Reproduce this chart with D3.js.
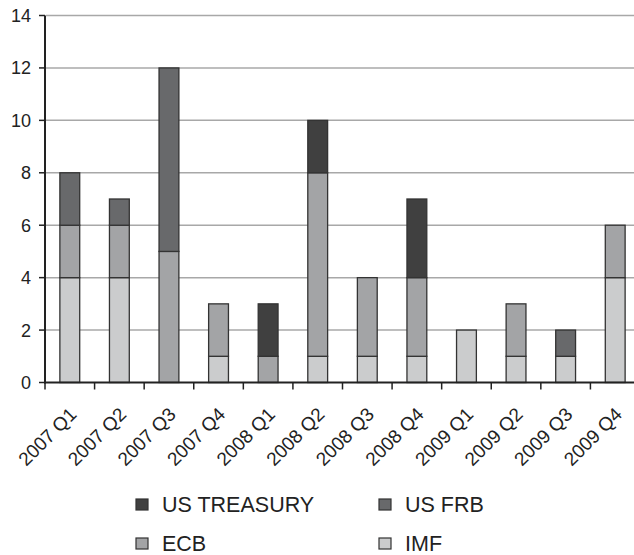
<!DOCTYPE html>
<html><head><meta charset="utf-8">
<script src="https://cdn.jsdelivr.net/npm/d3@7"></script>
<style>body{margin:0;background:#fff}svg{display:block}text{font-family:"Liberation Sans",Arial,sans-serif;fill:#222}</style>
</head><body><svg id="c" width="634" height="555"></svg>
<script>
const categories = ["2007 Q1","2007 Q2","2007 Q3","2007 Q4","2008 Q1","2008 Q2","2008 Q3","2008 Q4","2009 Q1","2009 Q2","2009 Q3","2009 Q4"];
const imf      = [4,4,0,1,0,1,1,1,2,1,1,4];
const ecb      = [2,2,5,2,1,7,3,3,0,2,0,2];
const usFrb    = [2,1,7,0,0,0,0,0,0,0,1,0];
const usTreas  = [0,0,0,0,2,2,0,3,0,0,0,0];
const yTicks = [0,2,4,6,8,10,12,14];
const seriesNames = ["IMF","ECB","US FRB","US TREASURY"];
const seriesColors = ["#cbcccd","#a3a4a6","#68696b","#404040"];

const rows = categories.map((c,i)=>({cat:c,"IMF":imf[i],"ECB":ecb[i],"US FRB":usFrb[i],"US TREASURY":usTreas[i]}));
const stack = d3.stack().keys(seriesNames)(rows);

const svg = d3.select("#c");
const x = d3.scaleBand().domain(categories).range([45,640]).paddingInner(0.6).paddingOuter(0.3);
const xb = d3.scaleBand().domain(categories).range([45,640]).padding(0);
const y = d3.scaleLinear().domain([0,14]).range([382.5,15.5]);

// gridlines
svg.append("g").selectAll("line").data(yTicks.filter(t=>t>0)).join("line")
  .attr("x1",46).attr("x2",634).attr("y1",d=>y(d)).attr("y2",d=>y(d))
  .attr("stroke","#a8a8a8").attr("stroke-width",1.5);

// bars
const colorOf = d3.scaleOrdinal().domain(seriesNames).range(seriesColors);
svg.append("g").selectAll("g").data(stack).join("g")
  .attr("fill",d=>colorOf(d.key))
  .selectAll("rect").data(d=>d.filter(s=>s[1]-s[0]>0)).join("rect")
  .attr("x",d=>x(d.data.cat)).attr("width",x.bandwidth())
  .attr("y",d=>y(d[1])).attr("height",d=>y(d[0])-y(d[1]))
  .attr("stroke","#333").attr("stroke-width",1.3);

// y axis
const ya = svg.append("g");
ya.append("line").attr("x1",45).attr("x2",45).attr("y1",y(14)).attr("y2",y(0)+1).attr("stroke","#222").attr("stroke-width",2);
ya.selectAll(".t").data(yTicks).join("line").attr("x1",39).attr("x2",45).attr("y1",d=>y(d)).attr("y2",d=>y(d)).attr("stroke","#222").attr("stroke-width",1.5);
ya.selectAll("text").data(yTicks).join("text").attr("x",31).attr("y",d=>y(d)+6.5)
  .attr("text-anchor","end").attr("font-size",18).text(d=>d);

// x axis
const xa = svg.append("g");
xa.append("line").attr("x1",44).attr("x2",634).attr("y1",y(0)).attr("y2",y(0)).attr("stroke","#222").attr("stroke-width",2);
xa.selectAll(".t").data(categories).join("line").attr("x1",d=>xb(d)).attr("x2",d=>xb(d))
  .attr("y1",y(0)).attr("y2",y(0)+7).attr("stroke","#222").attr("stroke-width",1.5);
xa.selectAll("text").data(categories).join("text")
  .attr("transform",d=>`translate(${x(d)+x.bandwidth()/2+8},${y(0)+33}) rotate(-45)`)
  .attr("text-anchor","end").attr("font-size",19).text(d=>d);

// legend
const legend = [
  {name:"US TREASURY",color:seriesColors[3],lx:136,ly:499},
  {name:"US FRB",color:seriesColors[2],lx:379,ly:499},
  {name:"ECB",color:seriesColors[1],lx:136,ly:538},
  {name:"IMF",color:seriesColors[0],lx:379,ly:538}
];
const lg = svg.append("g").selectAll("g").data(legend).join("g").attr("transform",d=>`translate(${d.lx},${d.ly})`);
lg.append("rect").attr("width",12).attr("height",11).attr("fill",d=>d.color).attr("stroke","#333").attr("stroke-width",1.2);
lg.append("text").attr("x",26).attr("y",13).attr("font-size",21.5).text(d=>d.name);
</script></body></html>
